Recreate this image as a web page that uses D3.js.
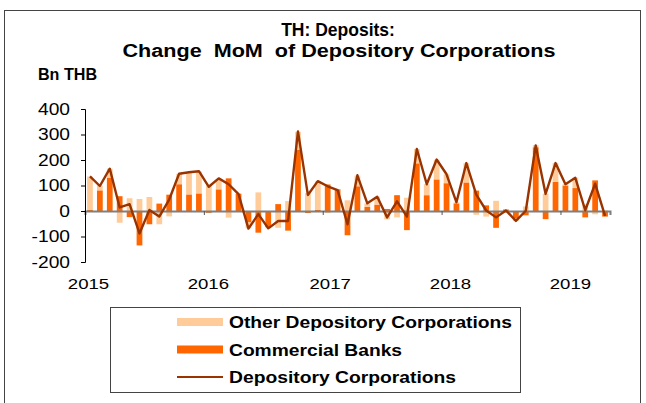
<!DOCTYPE html>
<html>
<head>
<meta charset="utf-8">
<script src="https://cdn.jsdelivr.net/npm/d3@7"></script>
<style>
    body { margin: 0; background: #fff; }
    svg { display: block; font-family: "Liberation Sans", Arial, sans-serif; }
</style>
</head>
<body>
<div id="chart"></div>
<script>
// monthly change, Bn THB, Jan 2015 - May 2019
const years = ["2015", "2016", "2017", "2018", "2019"];
const yearLabelAt = [0.3, 12.4, 24.7, 36.85, 48.95]; // in months from Jan 2015

const otherDepository = [
    130, 19, 35, -46, 50, 47, 55, -52, -21, 41, 84, 86,
    100, 40, -26, -3, -23, 73, -5, -66, 39, 70, 70, 112,
    -8, -3, 42, 42, 13, 31, -33, -25, 52, 56, 43, 77,
    35, 4, 76, -15, -22, 40, -3, -9, 18, 8, 68, 74,
    5, 41, 26, -13, 2
];
const commercialBanks = [
    5, 81, 131, 58, -24, -135, -52, 29, 64, 105, 65, 69,
    -7, 85, 128, 68, -45, -85, -63, 27, -77, 240, -8, 4,
    104, 85, -95, 97, 17, 25, 8, 62, -75, 187, 62, 124,
    109, 30, 112, 80, 22, -66, 6, -30, -17, 250, -32, 114,
    100, 90, -25, 120, -22
];
const depositoryCorps = [
    136, 98, 166, 14, 27, -88, 4, -22, 45, 146, 152, 156,
    95, 128, 105, 66, -69, -12, -68, -39, -39, 312, 63, 117,
    97, 82, -52, 140, 30, 56, -25, 38, -22, 243, 105, 202,
    144, 34, 188, 64, 2, -25, 2, -39, 1, 257, 67, 188,
    105, 130, 3, 107, -19
];
const yTicks = [-200, -100, 0, 100, 200, 300, 400];

const colors = { odc: "#ffcc99", cb: "#ff6600", dc: "#993300" };

const W = 646, H = 403;
const plot = { left: 85, right: 610, top: 109, bottom: 262 };
const stretch = 1.2; // the source picture is drawn a little wide

const svg = d3.select("#chart").append("svg")
    .attr("width", W)
    .attr("height", H);

// outer frame
svg.append("rect")
    .attr("x", 4.5).attr("y", 10.5)
    .attr("width", 636).attr("height", 420)
    .attr("fill", "none")
    .attr("stroke", "#444")
    .attr("stroke-width", 1);

// titles
svg.append("text")
    .attr("x", 338).attr("y", 36)
    .attr("text-anchor", "middle")
    .style("font-size", "17.5px").style("font-weight", "bold")
    .text("TH: Deposits:");

svg.append("text")
    .attr("x", 339).attr("y", 57)
    .attr("text-anchor", "middle")
    .attr("textLength", 433).attr("lengthAdjust", "spacingAndGlyphs")
    .style("font-size", "18px").style("font-weight", "bold")
    .style("white-space", "pre")
    .text("Change  MoM  of Depository Corporations");

svg.append("text")
    .attr("x", 38).attr("y", 80)
    .attr("textLength", 59).attr("lengthAdjust", "spacingAndGlyphs")
    .style("font-size", "16px").style("font-weight", "bold")
    .text("Bn THB");

// scales
const n = depositoryCorps.length;
const x = d3.scaleBand()
    .domain(d3.range(n))
    .range([plot.left, plot.right])
    .paddingInner(0.42)
    .paddingOuter(0.21);

const xm = d3.scaleLinear()   // month index -> position, for year ticks
    .domain([0, n])
    .range([plot.left, plot.right]);

const y = d3.scaleLinear()
    .domain([-200, 400])
    .range([plot.bottom, plot.top]);

// stacked bars (positive and negative stacked apart, like Excel)
const rows = d3.range(n).map(i => ({ i, cb: commercialBanks[i], odc: otherDepository[i] }));
const stacked = d3.stack()
    .keys(["cb", "odc"])
    .offset(d3.stackOffsetDiverging)(rows);

svg.append("g")
    .selectAll("g")
    .data(stacked)
    .join("g")
    .attr("fill", d => colors[d.key])
    .selectAll("rect")
    .data(d => d)
    .join("rect")
    .attr("x", d => x(d.data.i))
    .attr("width", x.bandwidth())
    .attr("y", d => y(Math.max(d[0], d[1])))
    .attr("height", d => Math.abs(y(d[0]) - y(d[1])));

// zero axis with year ticks
svg.append("g")
    .attr("transform", `translate(0,${y(0)})`)
    .call(d3.axisBottom(xm).tickValues([0, 12, 24, 36, 48]).tickSize(4).tickFormat(""))
    .call(g => g.select(".domain").attr("stroke", "#7f7f7f").attr("stroke-width", 2))
    .call(g => g.selectAll(".tick line").attr("stroke", "#555"));

// year labels sit under the plot
svg.append("g")
    .attr("transform", `translate(0,${plot.bottom + 13})`)
    .call(d3.axisBottom(xm).tickValues(yearLabelAt).tickSize(0)
        .tickFormat((d, i) => years[i]))
    .call(g => g.select(".domain").remove())
    .selectAll("text")
    .attr("fill", "#000")
    .attr("transform", `scale(${stretch},1)`)
    .style("font-size", "15.5px")
    .style("font-family", "Liberation Sans, Arial, sans-serif");

// y axis
svg.append("g")
    .attr("transform", `translate(${plot.left},0)`)
    .call(d3.axisLeft(y).tickValues(yTicks).tickSize(4).tickPadding(8.5).tickFormat(d => String(d)))
    .call(g => g.select(".domain").attr("stroke", "#000"))
    .selectAll("text")
    .attr("fill", "#000")
    .attr("transform", `scale(${stretch},1)`)
    .style("font-size", "16px")
    .style("font-family", "Liberation Sans, Arial, sans-serif");

// total line
const line = d3.line()
    .x((d, i) => x(i) + x.bandwidth() / 2)
    .y(d => y(d));

svg.append("path")
    .datum(depositoryCorps)
    .attr("fill", "none")
    .attr("stroke", colors.dc)
    .attr("stroke-width", 2.4)
    .attr("stroke-linejoin", "round")
    .attr("d", line);

// legend
const legend = svg.append("g");
legend.append("rect")
    .attr("x", 110.5).attr("y", 307.5)
    .attr("width", 410).attr("height", 85)
    .attr("fill", "#fff")
    .attr("stroke", "#444");

const legendItems = [
    { label: "Other Depository Corporations", key: "odc", type: "bar", w: 283 },
    { label: "Commercial Banks", key: "cb", type: "bar", w: 173 },
    { label: "Depository Corporations", key: "dc", type: "line", w: 227 }
];

legendItems.forEach((d, i) => {
    const cy = 322 + i * 27.5;
    if (d.type === "bar") {
        legend.append("rect")
            .attr("x", 177).attr("y", cy - 4)
            .attr("width", 46).attr("height", 8)
            .attr("fill", colors[d.key]);
    } else {
        legend.append("line")
            .attr("x1", 177).attr("x2", 223)
            .attr("y1", cy).attr("y2", cy)
            .attr("stroke", colors[d.key])
            .attr("stroke-width", 2);
    }
    legend.append("text")
        .attr("x", 229).attr("y", cy + 6)
        .attr("textLength", d.w).attr("lengthAdjust", "spacingAndGlyphs")
        .style("font-size", "16px").style("font-weight", "bold")
        .text(d.label);
});
</script>
</body>
</html>
